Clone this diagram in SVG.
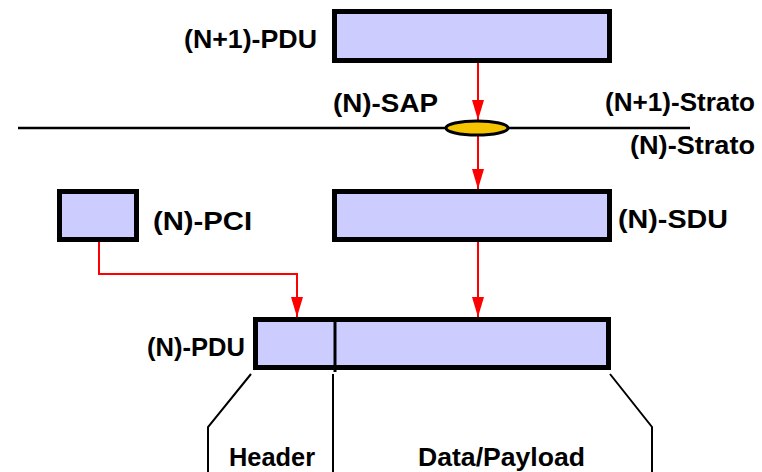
<svg xmlns="http://www.w3.org/2000/svg" width="762" height="472" viewBox="0 0 762 472">
<style>
.box{fill:#ccccff;stroke:#000;stroke-width:5}
.lbl{font-family:"Liberation Sans",Arial,sans-serif;font-weight:bold;font-size:26px;fill:#000}
.red{fill:none;stroke:#ff0000;stroke-width:2}
.blk{fill:none;stroke:#000;stroke-width:2}
</style>
<defs>
<marker id="ah" markerUnits="userSpaceOnUse" markerWidth="20" markerHeight="12" refX="20" refY="6" orient="auto">
<path d="M0,0 L20,6 L0,12 z" fill="#ff0000"/>
</marker>
</defs>
<rect width="762" height="472" fill="#fff"/>
<g id="layer-line">
<line x1="18" y1="128" x2="690" y2="128" stroke="#000" stroke-width="2.5"/>
<text class="lbl" x="605" y="111" textLength="150" lengthAdjust="spacingAndGlyphs">(N+1)-Strato</text>
<text class="lbl" x="630" y="154" textLength="125" lengthAdjust="spacingAndGlyphs">(N)-Strato</text>
</g>
<g id="connectors">
<line class="red" x1="478" y1="63" x2="478" y2="120" marker-end="url(#ah)"/>
<line class="red" x1="478" y1="135" x2="478" y2="189" marker-end="url(#ah)"/>
<line class="red" x1="478" y1="242" x2="478" y2="317" marker-end="url(#ah)"/>
<polyline class="red" points="99,242 99,274 297,274 297,317" marker-end="url(#ah)"/>
<polyline class="blk" points="251,374 208,427 208,472"/>
<line class="blk" x1="333" y1="374" x2="333" y2="472"/>
<polyline class="blk" points="610,374 652,427 652,472"/>
</g>
<g id="n1-pdu">
<rect class="box" x="334.5" y="11.5" width="275" height="49"/>
<text class="lbl" x="184" y="48" textLength="133" lengthAdjust="spacingAndGlyphs">(N+1)-PDU</text>
</g>
<g id="n-sap">
<ellipse cx="477" cy="128" rx="31" ry="7" fill="#f5c400" stroke="#000" stroke-width="3"/>
<text class="lbl" x="333" y="112" textLength="105" lengthAdjust="spacingAndGlyphs">(N)-SAP</text>
</g>
<g id="n-sdu">
<rect class="box" x="334.5" y="191.5" width="275" height="48"/>
<text class="lbl" x="618" y="228" textLength="110" lengthAdjust="spacingAndGlyphs">(N)-SDU</text>
</g>
<g id="n-pci">
<rect class="box" x="59.5" y="191.5" width="77" height="48"/>
<text class="lbl" x="153" y="230" textLength="99" lengthAdjust="spacingAndGlyphs">(N)-PCI</text>
</g>
<g id="n-pdu">
<rect class="box" x="255.5" y="319.5" width="353" height="48"/>
<line x1="335" y1="319" x2="335" y2="372" stroke="#000" stroke-width="3"/>
<text class="lbl" x="147" y="356" textLength="98" lengthAdjust="spacingAndGlyphs">(N)-PDU</text>
</g>
<g id="fields">
<text class="lbl" x="229" y="466" textLength="86" lengthAdjust="spacingAndGlyphs">Header</text>
<text class="lbl" x="418" y="466" textLength="167" lengthAdjust="spacingAndGlyphs">Data/Payload</text>
</g>
</svg>
